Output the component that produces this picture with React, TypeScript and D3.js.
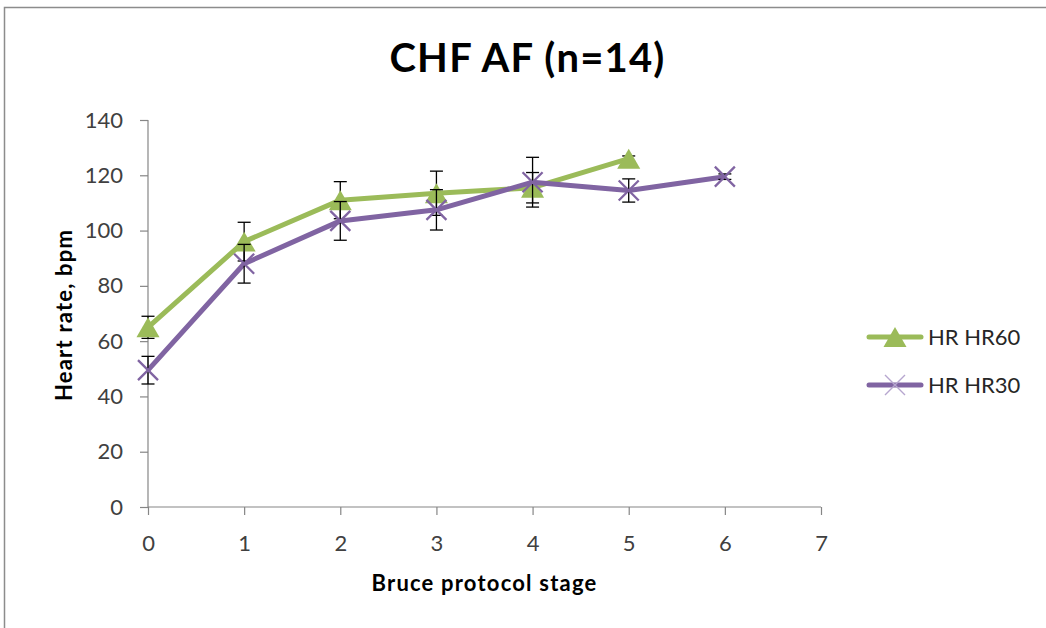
import React, { useEffect, useRef } from "react";
import * as d3 from "d3";

// Bruce protocol stages on the x axis
const stages = [0, 1, 2, 3, 4, 5, 6];

// Mean heart rate (bpm) per stage, with error bar half-widths
const hr60 = [65, 96, 111, 113.5, 115.5, 126];
const hr60Err = [4, 7, 6.7, 8, 5.5, 1];
const hr30 = [49.5, 88, 103.5, 107.5, 117.5, 114.5, 119.5];
const hr30Err = [5, 7, 7, 7.3, 9, 4.2, 1];

const xTicks = [0, 1, 2, 3, 4, 5, 6, 7];
const yTicks = [0, 20, 40, 60, 80, 100, 120, 140];

const seriesNames = ["HR HR60", "HR HR30"];
const GREEN = "#9bbb59";
const PURPLE = "#8064a2";

const W = 1046;
const H = 628;
const FONT = "Lato, 'Open Sans', sans-serif";

export default function App() {
  const ref = useRef<SVGSVGElement>(null);

  useEffect(() => {
    const svg = d3.select(ref.current);
    svg.selectAll("*").remove();

    const x = d3.scaleLinear().domain([0, 7]).range([148, 821]);
    const y = d3.scaleLinear().domain([0, 140]).range([507, 120]);

    // chart frame
    svg
      .append("path")
      .attr("d", `M4.5,${H + 5}V7.5H${W + 5}`)
      .attr("fill", "none")
      .attr("stroke", "#8c8c8c")
      .attr("stroke-width", 1.5);

    // title
    svg
      .append("text")
      .attr("x", 527.5)
      .attr("y", 72)
      .attr("text-anchor", "middle")
      .attr("font-family", FONT)
      .attr("font-weight", "bold")
      .attr("font-size", 40)
      .attr("letter-spacing", 1.2)
      .attr("fill", "#000")
      .text("CHF AF (n=14)");

    // axes
    const axisColor = "#868686";
    const yAxis = svg.append("g").attr("transform", `translate(${x(0)},0)`).call(
      d3.axisLeft(y).tickValues(yTicks).tickSize(8).tickPadding(17).tickFormat(d3.format("d"))
    );
    const xAxis = svg.append("g").attr("transform", `translate(0,${y(0)})`).call(
      d3.axisBottom(x).tickValues(xTicks).tickSize(8).tickPadding(20).tickFormat(d3.format("d"))
    );
    [yAxis, xAxis].forEach((g) => {
      g.select(".domain").attr("stroke", axisColor).attr("stroke-width", 1.2);
      g.selectAll(".tick line").attr("stroke", axisColor).attr("stroke-width", 1.2);
      g.selectAll(".tick text")
        .attr("font-family", FONT)
        .attr("font-size", 22)
        .attr("fill", "#404040");
    });
    yAxis.select(".domain").attr("d", `M0,${y(140)}V${y(0)}`);
    xAxis.select(".domain").attr("d", `M${x(0)},0H${x(7)}`);

    // axis titles
    svg
      .append("text")
      .attr("transform", `translate(72,315) rotate(-90)`)
      .attr("text-anchor", "middle")
      .attr("font-family", FONT)
      .attr("font-weight", "bold")
      .attr("font-size", 22)
      .attr("letter-spacing", 1.2)
      .text("Heart rate, bpm");
    svg
      .append("text")
      .attr("x", 484.5)
      .attr("y", 591)
      .attr("text-anchor", "middle")
      .attr("font-family", FONT)
      .attr("font-weight", "bold")
      .attr("font-size", 22)
      .attr("letter-spacing", 1.2)
      .text("Bruce protocol stage");

    const line = d3
      .line<number>()
      .x((_, i) => x(stages[i]))
      .y((d) => y(d));

    // triangle marker, shifted so its bounding box is centred on the point
    const triSize = 230;
    const triangle = d3.symbol().type(d3.symbolTriangle).size(triSize);
    const triShift = Math.sqrt(triSize / (Math.sqrt(3) * 3)) / 2;

    const drawErr = (vals: number[], errs: number[]) => {
      const g = svg.append("g").attr("stroke", "#000").attr("stroke-width", 1.3);
      vals.forEach((v, i) => {
        const cx = x(stages[i]);
        const y1 = y(v + errs[i]);
        const y2 = y(v - errs[i]);
        g.append("line").attr("x1", cx).attr("x2", cx).attr("y1", y1).attr("y2", y2);
        g.append("line").attr("x1", cx - 6.5).attr("x2", cx + 6.5).attr("y1", y1).attr("y2", y1);
        g.append("line").attr("x1", cx - 6.5).attr("x2", cx + 6.5).attr("y1", y2).attr("y2", y2);
      });
    };

    const crossPath = (cx: number, cy: number, r: number) =>
      `M${cx - r},${cy - r}L${cx + r},${cy + r}M${cx - r},${cy + r}L${cx + r},${cy - r}`;

    // HR60 series
    svg
      .append("path")
      .attr("d", line(hr60))
      .attr("fill", "none")
      .attr("stroke", GREEN)
      .attr("stroke-width", 5)
      .attr("stroke-linejoin", "round");
    drawErr(hr60, hr60Err);
    svg
      .append("g")
      .selectAll("path")
      .data(hr60)
      .join("path")
      .attr("d", triangle)
      .attr("transform", (d, i) => `translate(${x(stages[i])},${y(d) + triShift * 3 - triShift * 2})`)
      .attr("fill", GREEN);

    // HR30 series
    svg
      .append("path")
      .attr("d", line(hr30))
      .attr("fill", "none")
      .attr("stroke", PURPLE)
      .attr("stroke-width", 5)
      .attr("stroke-linejoin", "round");
    drawErr(hr30, hr30Err);
    svg
      .append("g")
      .selectAll("path")
      .data(hr30)
      .join("path")
      .attr("d", (d, i) => crossPath(x(stages[i]), y(d), 10))
      .attr("stroke", PURPLE)
      .attr("stroke-width", 2.3)
      .attr("fill", "none");

    // legend
    const legend = svg.append("g");
    seriesNames.forEach((name, i) => {
      const ly = 337 + i * 48;
      const color = i === 0 ? GREEN : PURPLE;
      legend
        .append("line")
        .attr("x1", 869)
        .attr("x2", 921)
        .attr("y1", ly)
        .attr("y2", ly)
        .attr("stroke", color)
        .attr("stroke-width", 5)
        .attr("stroke-linecap", "round");
      if (i === 0) {
        legend
          .append("path")
          .attr("d", triangle)
          .attr("transform", `translate(895,${ly + triShift})`)
          .attr("fill", GREEN);
      } else {
        legend
          .append("path")
          .attr("d", crossPath(895, ly, 10))
          .attr("stroke", "#b6a6cf")
          .attr("stroke-width", 1.4)
          .attr("fill", "none");
      }
      legend
        .append("text")
        .attr("x", 928)
        .attr("y", ly)
        .attr("dy", "0.36em")
        .attr("font-family", FONT)
        .attr("font-size", 22)
        .attr("fill", "#262626")
        .text(name);
    });
  }, []);

  return (
    <svg
      ref={ref}
      width={W}
      height={H}
      style={{ position: "absolute", left: 0, top: 0, background: "#fff" }}
    />
  );
}
